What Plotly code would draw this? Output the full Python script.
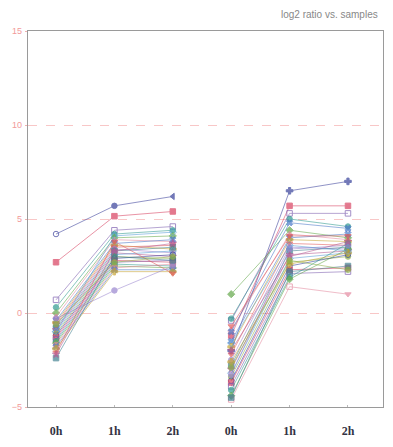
import plotly.graph_objects as go

# ---- data ----
tick_labels = ["0h", "1h", "2h", "0h", "1h", "2h"]
y_ticks = [-5, 0, 5, 10, 15]
title_text = "log2 ratio vs. samples"

left_0h = [4.2, 2.7, 0.7, 0.3, 0.0, -0.2, -0.4, -0.5, -0.6, -0.7, -0.8, -0.9, -1.0, -1.1,
           -1.2, -1.3, -1.4, -1.5, -1.6, -1.7, -1.8, -1.9, -2.1, -0.3, -2.4, -2.2, -1.0, -0.6]
left_1h = [5.7, 5.15, 4.4, 4.2, 4.0, 3.9, 3.7, 3.6, 3.5, 3.4, 3.3, 3.2, 3.1, 3.0,
           2.9, 2.8, 2.7, 2.6, 2.5, 2.4, 2.3, 2.2, 3.8, 1.2, 3.0, 3.3, 4.1, 2.7]
left_2h = [6.2, 5.4, 4.6, 4.4, 4.1, 3.8, 3.9, 3.4, 3.6, 3.2, 3.5, 3.0, 3.3, 2.9,
           3.1, 2.7, 2.8, 2.5, 2.4, 2.6, 2.3, 2.2, 2.1, 2.5, 2.8, 3.7, 4.3, 3.0]

right_0h = [-2.0, -1.2, -0.4, -0.3, 1.0, -0.9, -1.5, -1.8, -2.2, -2.5, -2.8, -3.0, -3.2, -3.4,
            -3.6, -3.7, -3.9, -4.1, -4.4, -4.6, -1.0, -2.6, -0.7, -3.3, -4.5, -2.0, -1.6, -2.9]
right_1h = [6.5, 5.7, 5.3, 5.0, 4.4, 4.2, 4.0, 3.9, 3.7, 3.5, 3.3, 3.1, 2.9, 2.7,
            2.5, 2.3, 2.1, 1.9, 1.8, 1.4, 4.8, 2.6, 4.1, 3.4, 2.2, 3.0, 3.6, 2.8]
right_2h = [7.0, 5.7, 5.3, 4.6, 4.0, 3.9, 4.2, 3.8, 3.6, 3.4, 3.5, 3.3, 3.2, 3.0,
            3.1, 2.4, 2.2, 3.7, 3.4, 1.0, 4.5, 3.2, 4.1, 3.6, 2.5, 3.8, 3.3, 2.3]

palette = ["#34409a", "#d8405f", "#7d5fb0", "#2f9a8f", "#63a84a", "#e58aa0", "#4a78c8",
           "#c7a535", "#e25c5c", "#9a86cf", "#3f7f8f", "#b55a93", "#5aa0d8", "#8fb04a"]
symbols = ["circle-open", "square", "square-open", "circle", "diamond", "triangle-up",
           "x", "cross", "triangle-down", "circle", "square", "star", "diamond-open", "circle"]

fig = go.Figure()
n = len(left_0h)
for i in range(n):
    c = palette[i % len(palette)]
    s = symbols[i % len(symbols)]
    fig.add_trace(go.Scatter(
        x=[1, 2, 3, None, 4, 5, 6],
        y=[left_0h[i], left_1h[i], left_2h[i], None, right_0h[i], right_1h[i], right_2h[i]],
        mode="lines+markers",
        line=dict(color=c, width=0.8),
        marker=dict(symbol=s, size=5.5, color=c, line=dict(color=c, width=1)),
        opacity=0.7,
        connectgaps=False,
        showlegend=False,
        hoverinfo="skip",
    ))

# a few distinctive series
fig.data[0].marker.symbol = ["circle-open", "circle", "triangle-left", "circle", "cross", "cross", "cross"]
fig.data[0].line.color = "#3a3f9a"
fig.data[0].marker.color = "#3a3f9a"
fig.data[19].marker.symbol = ["circle", "square", "square", "circle", "square-open", "square-open", "triangle-down"]

# the page body has an 8px margin on every side, so the figure is sized to fit inside it
fig.update_layout(
    width=377, height=431,
    margin=dict(l=20, r=1, t=23, b=28),
    paper_bgcolor="white", plot_bgcolor="white",
    xaxis=dict(
        range=[0.52, 6.6],
        tickvals=[1, 2, 3, 4, 5, 6], ticktext=tick_labels,
        tickfont=dict(family="Liberation Serif", size=12, color="#333344", weight="bold"),
        showgrid=False, zeroline=False,
        showline=True, linecolor="#9a9a9a", linewidth=1.2, mirror=True,
        ticks="inside", ticklen=2, tickcolor="#bbbbbb",
        ticklabelstandoff=12,
    ),
    yaxis=dict(
        range=[-5, 15], tickvals=y_ticks,
        tickfont=dict(family="Liberation Sans", size=9, color="#f29a9a"),
        showgrid=True, gridcolor="rgba(240,130,130,0.45)", griddash="dash", gridwidth=1,
        zeroline=False,
        showline=True, linecolor="#9a9a9a", linewidth=1.2, mirror=True,
        ticks="outside", ticklen=2, tickcolor="#f2b0b0",
        ticklabelstandoff=1,
    ),
    annotations=[dict(
        text=title_text, xref="paper", yref="paper", x=1.0, y=1.0,
        xanchor="right", yanchor="bottom", yshift=9, xshift=-3, showarrow=False,
        font=dict(family="Liberation Sans", size=10, color="#888888"),
    )],
)

fig.write_html("out.html")
